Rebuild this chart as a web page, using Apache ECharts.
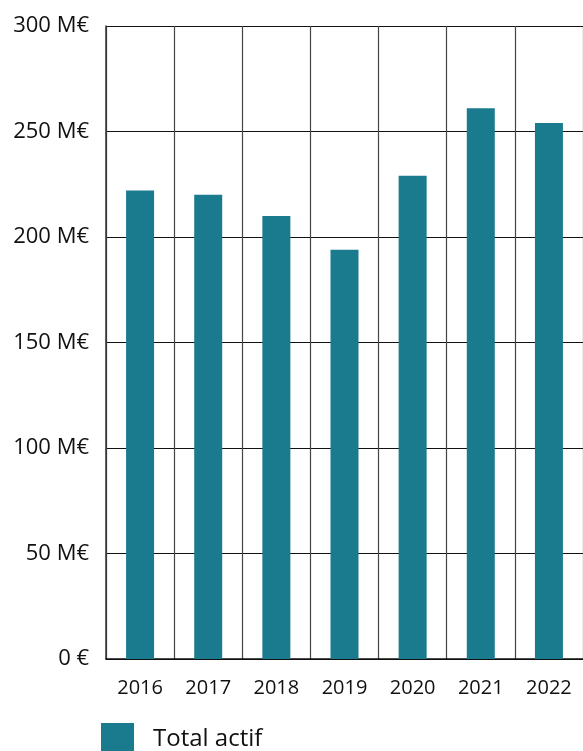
<!DOCTYPE html>
<html>
<head>
<meta charset="utf-8">
<script src="https://cdn.jsdelivr.net/npm/echarts@6/dist/echarts.min.js"></script>
<style>
  html, body { margin: 0; padding: 0; background: #fff; }
  #chart { width: 583px; height: 751px; }
</style>
</head>
<body>
<div id="chart"></div>
<script>
const years = ['2016', '2017', '2018', '2019', '2020', '2021', '2022'];
const totalActif = [222, 220, 210, 194, 229, 261, 254];
const yTicks = [0, 50, 100, 150, 200, 250, 300];

const chart = echarts.init(document.getElementById('chart'));
chart.setOption({
  animation: false,
  textStyle: { fontFamily: 'Open Sans' },
  grid: { left: 106, top: 26, width: 478, height: 633, containLabel: false },
  legend: {
    left: 101,
    top: 723,
    padding: 0,
    icon: 'rect',
    itemWidth: 33,
    itemHeight: 33,
    itemGap: 20,
    selectedMode: false,
    textStyle: { fontSize: 24, color: '#111', padding: [0, 0, 0, 14] },
    data: ['Total actif']
  },
  xAxis: {
    type: 'category',
    data: years,
    boundaryGap: true,
    axisLine: { show: true, lineStyle: { color: '#111', width: 1.5 } },
    axisTick: { show: false },
    axisLabel: { fontSize: 20, color: '#111', margin: 19 },
    splitLine: { show: true, interval: 0, lineStyle: { color: '#444', width: 1.2 } }
  },
  yAxis: {
    type: 'value',
    min: yTicks[0],
    max: yTicks[yTicks.length - 1],
    interval: 50,
    axisLine: { show: true, lineStyle: { color: '#333', width: 1.5 } },
    axisTick: { show: false },
    axisLabel: {
      fontSize: 22,
      color: '#111',
      margin: 17,
      formatter: v => (v === 0 ? '0 €' : v + ' M€')
    },
    splitLine: { show: true, lineStyle: { color: '#111', width: 1 } }
  },
  series: [
    {
      name: 'Total actif',
      type: 'bar',
      data: totalActif,
      barWidth: 28,
      itemStyle: { color: '#1a7a8e' }
    }
  ]
});
</script>
</body>
</html>
